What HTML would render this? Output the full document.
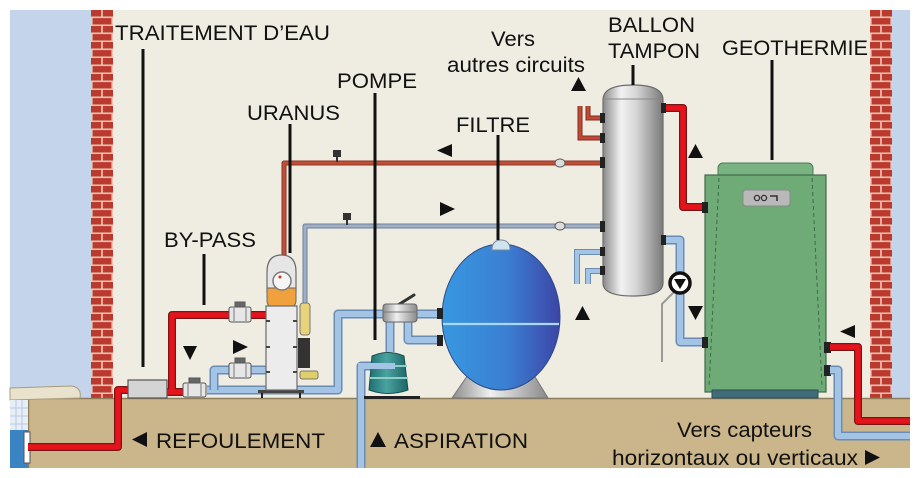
<!DOCTYPE html>
<html><head><meta charset="utf-8"><style>
html,body{margin:0;padding:0;background:#fff;}
svg{display:block;}
text{font-family:"Liberation Sans",Arial,sans-serif;fill:#111;}
</style></head><body>
<svg width="920" height="478" viewBox="0 0 920 478" xmlns="http://www.w3.org/2000/svg">
<defs>
 <pattern id="brickL" x="91" y="10" width="22" height="16" patternUnits="userSpaceOnUse">
  <rect width="22" height="16" fill="#bb3a2e"/>
  <rect y="6.5" width="22" height="1.6" fill="#f0c4b8"/>
  <rect y="14.5" width="22" height="1.6" fill="#f0c4b8"/>
  <rect x="10.2" y="0" width="1.6" height="7" fill="#f0c4b8"/>
  <rect x="0" y="8" width="1.6" height="7" fill="#f0c4b8"/>
  <rect x="20.4" y="8" width="1.6" height="7" fill="#f0c4b8"/>
 </pattern>
 <pattern id="brickR" x="870" y="10" width="22" height="16" patternUnits="userSpaceOnUse">
  <rect width="22" height="16" fill="#bb3a2e"/>
  <rect y="6.5" width="22" height="1.6" fill="#f0c4b8"/>
  <rect y="14.5" width="22" height="1.6" fill="#f0c4b8"/>
  <rect x="10.2" y="0" width="1.6" height="7" fill="#f0c4b8"/>
  <rect x="0" y="8" width="1.6" height="7" fill="#f0c4b8"/>
  <rect x="20.4" y="8" width="1.6" height="7" fill="#f0c4b8"/>
 </pattern>
 <linearGradient id="tank" x1="0" x2="1" y1="0" y2="0">
  <stop offset="0" stop-color="#8a8a8a"/>
  <stop offset="0.3" stop-color="#f2f2f2"/>
  <stop offset="0.55" stop-color="#d6d6d6"/>
  <stop offset="1" stop-color="#7a7a7a"/>
 </linearGradient>
 <linearGradient id="filt" x1="0" x2="1" y1="0" y2="0">
  <stop offset="0" stop-color="#3898e0"/>
  <stop offset="0.55" stop-color="#3b7fd2"/>
  <stop offset="1" stop-color="#3c45a6"/>
 </linearGradient>
 <linearGradient id="silver" x1="0" x2="1" y1="0" y2="0">
  <stop offset="0" stop-color="#8c8c8c"/>
  <stop offset="0.4" stop-color="#f0f0f0"/>
  <stop offset="1" stop-color="#8a8a8a"/>
 </linearGradient>
 <linearGradient id="pumpg" x1="0" x2="1" y1="0" y2="0">
  <stop offset="0" stop-color="#1f6f70"/>
  <stop offset="0.45" stop-color="#4aa3a0"/>
  <stop offset="1" stop-color="#1c6466"/>
 </linearGradient>
</defs>

<!-- base -->
<rect width="920" height="478" fill="#ffffff"/>
<rect x="10" y="10" width="900" height="458" fill="#efece2"/>
<rect x="10" y="10" width="81" height="390" fill="#c4d4ea"/>
<rect x="892" y="10" width="18" height="390" fill="#c4d4ea"/>
<rect x="91" y="10" width="22" height="390" fill="url(#brickL)"/>
<rect x="870" y="10" width="22" height="390" fill="url(#brickR)"/>

<!-- ground -->
<rect x="28" y="398" width="882" height="70" fill="#cbb68b"/>
<line x1="28" y1="398.5" x2="910" y2="398.5" stroke="#8e7d5a" stroke-width="1.5"/>
<line x1="28.5" y1="398" x2="28.5" y2="468" stroke="#8e7d5a" stroke-width="1.5"/>

<!-- pool -->
<path d="M10 388 L72 386 Q82 388 80 398 L10 400 Z" fill="#e9e2cc" stroke="#a99c7c" stroke-width="1"/>
<rect x="10" y="400" width="18" height="68" fill="#3a84c4"/>
<rect x="10" y="400" width="18" height="30" fill="#e8eef6"/>
<path d="M10 408 H28 M10 416 H28 M10 424 H28 M16 400 V430 M22 400 V430" stroke="#b8cbe4" stroke-width="1"/>
<rect x="24" y="432" width="6" height="31" fill="#ffffff" stroke="#555" stroke-width="1"/>

<!-- thin upper pipes -->
<path d="M284 256 V163 H603" fill="none" stroke="#8e3424" stroke-width="5" stroke-linejoin="round"/>
<path d="M284 256 V163 H603" fill="none" stroke="#bf5038" stroke-width="3" stroke-linejoin="round"/>
<path d="M305 305 V226 H603" fill="none" stroke="#6d7e95" stroke-width="5" stroke-linejoin="round"/>
<path d="M305 305 V226 H603" fill="none" stroke="#9fb0c6" stroke-width="3" stroke-linejoin="round"/>
<rect x="333" y="150" width="8" height="7" fill="#333"/><rect x="336" y="157" width="2" height="5" fill="#333"/>
<rect x="343" y="213" width="8" height="7" fill="#333"/><rect x="346" y="220" width="2" height="5" fill="#333"/>
<ellipse cx="560" cy="163" rx="5" ry="4" fill="#ddd" stroke="#555"/>
<ellipse cx="560" cy="226" rx="5" ry="4" fill="#ddd" stroke="#555"/>

<!-- small red pipes to other circuits -->
<path d="M603 118 H588 V106 M603 138 H580 V106" fill="none" stroke="#7e2a1e" stroke-width="5"/>
<path d="M603 118 H588 V106 M603 138 H580 V106" fill="none" stroke="#c24a34" stroke-width="3"/>
<!-- small blue pipes bottom-left of tank -->
<path d="M603 252 H577 V284 M603 271 H588 V284" fill="none" stroke="#6b8db5" stroke-width="6"/>
<path d="M603 252 H577 V284 M603 271 H588 V284" fill="none" stroke="#a4c4e6" stroke-width="4"/>

<!-- right red pipe tank -> unit -->
<path d="M663 108 H683 V207 H705" fill="none" stroke="#7a1515" stroke-width="8" stroke-linejoin="round"/>
<path d="M663 108 H683 V207 H705" fill="none" stroke="#e5141c" stroke-width="5.5" stroke-linejoin="round"/>
<!-- right blue pipe tank -> unit -->
<path d="M663 240 H680 V342 H705" fill="none" stroke="#6b8db5" stroke-width="9" stroke-linejoin="round"/>
<path d="M663 240 H680 V342 H705" fill="none" stroke="#a4c4e6" stroke-width="6" stroke-linejoin="round"/>
<!-- wire -->
<path d="M676 290 L662 304 V362" fill="none" stroke="#9a9a9a" stroke-width="2"/>
<!-- circulator -->
<circle cx="680" cy="283" r="10" fill="#fff" stroke="#111" stroke-width="3.5"/>
<polygon points="674,279 686,279 680,289" fill="#111"/>

<!-- tank -->
<path d="M603 100 Q603 85 633 85 Q663 85 663 100 V283 Q663 296 633 296 Q603 296 603 283 Z" fill="url(#tank)" stroke="#6c6c6c" stroke-width="1.2"/>
<path d="M604 99 H662" stroke="#888" stroke-width="1"/>
<rect x="600" y="113" width="5" height="10" fill="#222"/>
<rect x="600" y="133" width="5" height="10" fill="#222"/>
<rect x="600" y="157" width="5" height="11" fill="#222"/>
<rect x="600" y="221" width="5" height="11" fill="#222"/>
<rect x="600" y="247" width="5" height="9" fill="#222"/>
<rect x="600" y="266" width="5" height="9" fill="#222"/>
<rect x="661" y="103" width="5" height="10" fill="#222"/>
<rect x="661" y="235" width="5" height="10" fill="#222"/>

<!-- geothermie unit -->
<rect x="718" y="163" width="95" height="20" rx="5" fill="#79b381" stroke="#4b7b52" stroke-width="1"/>
<rect x="705" y="175" width="121" height="217" fill="#6eab77" stroke="#40694a" stroke-width="1.2"/>
<path d="M719 178 L709 388 M812 178 L822 388" stroke="#3e6a46" stroke-width="1" stroke-dasharray="4,3"/>
<rect x="712" y="390" width="106" height="8" fill="#3f6c78" stroke="#2c4c55" stroke-width="1"/>
<rect x="743" y="190" width="47" height="16" rx="3" fill="#b9b9b9" stroke="#8a8a8a"/>
<circle cx="757" cy="198" r="2.6" fill="none" stroke="#333" stroke-width="1.3"/>
<circle cx="764" cy="198" r="2.6" fill="none" stroke="#333" stroke-width="1.3"/>
<path d="M770 196 H777 V201" fill="none" stroke="#333" stroke-width="1.6"/>
<rect x="702" y="202" width="6" height="11" fill="#222"/>
<rect x="702" y="337" width="6" height="11" fill="#222"/>
<rect x="824" y="342" width="7" height="11" fill="#222"/>
<rect x="824" y="365" width="7" height="11" fill="#222"/>

<!-- right pipes to collectors -->
<path d="M830 370 H838 V436 H910" fill="none" stroke="#6b8db5" stroke-width="9" stroke-linejoin="round"/>
<path d="M830 370 H838 V436 H910" fill="none" stroke="#a4c4e6" stroke-width="6" stroke-linejoin="round"/>
<path d="M830 347 H858 V421 H910" fill="none" stroke="#7a1515" stroke-width="8" stroke-linejoin="round"/>
<path d="M830 347 H858 V421 H910" fill="none" stroke="#e5141c" stroke-width="5.5" stroke-linejoin="round"/>

<!-- blue pipes left/center -->
<path d="M207 390 H338 V314 H383 M417 314 H442 M408 320 V340 H442 M390 320 V352" fill="none" stroke="#6b8db5" stroke-width="9" stroke-linejoin="round"/>
<path d="M207 390 H338 V314 H383 M417 314 H442 M408 320 V340 H442 M390 320 V352" fill="none" stroke="#a4c4e6" stroke-width="6" stroke-linejoin="round"/>
<path d="M214 390 V370 H266" fill="none" stroke="#6b8db5" stroke-width="9" stroke-linejoin="round"/>
<path d="M214 390 V370 H266" fill="none" stroke="#a4c4e6" stroke-width="6" stroke-linejoin="round"/>
<path d="M395 366 H361 V468" fill="none" stroke="#6b8db5" stroke-width="9" stroke-linejoin="round"/>
<path d="M395 366 H361 V468" fill="none" stroke="#a4c4e6" stroke-width="6" stroke-linejoin="round"/>

<!-- red pipes left -->
<path d="M130 390 H118 V447 H28" fill="none" stroke="#7a1515" stroke-width="8" stroke-linejoin="round"/>
<path d="M130 390 H118 V447 H28" fill="none" stroke="#e5141c" stroke-width="5.5" stroke-linejoin="round"/>
<path d="M165 392 H185 M172 392 V315 H266" fill="none" stroke="#7a1515" stroke-width="8" stroke-linejoin="round"/>
<path d="M165 392 H185 M172 392 V315 H266" fill="none" stroke="#e5141c" stroke-width="5.5" stroke-linejoin="round"/>

<!-- valves -->
<g stroke="#555" stroke-width="1">
 <rect x="183" y="383" width="23" height="14" rx="2" fill="#e6e6e6"/>
 <rect x="189" y="378" width="11" height="5" fill="#666"/>
 <rect x="229" y="307" width="22" height="15" rx="2" fill="#e6e6e6"/>
 <rect x="235" y="302" width="10" height="5" fill="#666"/>
 <rect x="229" y="363" width="22" height="15" rx="2" fill="#e6e6e6"/>
 <rect x="235" y="358" width="10" height="5" fill="#666"/>
</g>
<path d="M188 384 V396 M201 384 V396 M234 308 V321 M246 308 V321 M234 364 V377 M246 364 V377" stroke="#777" stroke-width="1"/>

<!-- traitement box -->
<rect x="128" y="380" width="39" height="18" fill="#d4d4d4" stroke="#555" stroke-width="1.2"/>

<!-- uranus -->
<path d="M262 398 V391 M300 398 V391" stroke="#222" stroke-width="2"/>
<rect x="258" y="390" width="46" height="3" fill="#444"/>
<path d="M267 292 V272 Q267 255 281.5 255 Q296 255 296 272 V292 Z" fill="#e6e6e6" stroke="#6a6a6a" stroke-width="1.2"/>
<path d="M267 288 H296 V300 Q296 307 290 307 H273 Q267 307 267 300 Z" fill="#f0a03c" stroke="#6a6a6a" stroke-width="1"/>
<circle cx="282" cy="281" r="9" fill="#f6f6f6" stroke="#7a7a7a" stroke-width="1.5"/>
<circle cx="280" cy="277" r="1.5" fill="#d03020"/>
<rect x="266" y="306" width="31" height="84" fill="#ececec" stroke="#6a6a6a" stroke-width="1.2"/>
<path d="M266 321 h4 M293 321 h4 M266 347 h4 M293 347 h4 M266 372 h4 M293 372 h4" stroke="#444" stroke-width="2"/>
<rect x="300" y="303" width="10" height="32" rx="3" fill="#e8d27a" stroke="#777" stroke-width="1"/>
<rect x="298" y="338" width="12" height="30" fill="#333"/>
<rect x="300" y="371" width="18" height="8" rx="2" fill="#e0cf66" stroke="#777" stroke-width="1"/>

<!-- filter -->
<path d="M452 398 L470 372 H532 L548 398 Z" fill="url(#silver)" stroke="#777" stroke-width="1"/>
<ellipse cx="501" cy="317" rx="59" ry="73" fill="url(#filt)" stroke="#2d4a88" stroke-width="1"/>
<line x1="443" y1="324" x2="559" y2="324" stroke="#a8d8f4" stroke-width="2.2"/>
<path d="M492 250 Q492 240 501 240 Q510 240 510 250 Z" fill="#cfe4ee" stroke="#7a8a99" stroke-width="1"/>
<rect x="437" y="308" width="6" height="11" fill="#222"/>
<rect x="437" y="335" width="6" height="11" fill="#222"/>

<!-- multiport valve + pump -->
<path d="M398 305 L414 295" stroke="#333" stroke-width="3" stroke-linecap="round"/>
<rect x="383" y="304" width="34" height="18" rx="3" fill="url(#silver)" stroke="#666" stroke-width="1"/>
<line x1="383" y1="312" x2="417" y2="312" stroke="#777" stroke-width="1"/>
<rect x="364" y="396" width="56" height="3" fill="#222"/>
<path d="M372 356 Q388 349 404 356 L408 390 Q388 397 369 390 Z" fill="url(#pumpg)" stroke="#17504f" stroke-width="1"/>
<path d="M371 366 H407 M370 378 H408" stroke="#8ed0c8" stroke-width="2"/>
<path d="M395 366 H361 V380" fill="none" stroke="#a4c4e6" stroke-width="6"/>

<!-- leader lines -->
<g stroke="#111" stroke-width="3">
 <line x1="143" y1="49" x2="143" y2="367"/>
 <line x1="290" y1="124" x2="290" y2="253"/>
 <line x1="375" y1="93" x2="375" y2="340"/>
 <line x1="204" y1="254" x2="204" y2="305"/>
 <line x1="498" y1="135" x2="498" y2="240"/>
 <line x1="633" y1="65" x2="633" y2="85"/>
 <line x1="772" y1="60" x2="772" y2="160"/>
</g>

<!-- arrows -->
<g fill="#111">
 <polygon points="571,91 586,91 578.5,77"/>
 <polygon points="452,144 452,157 437,150.5"/>
 <polygon points="440,202 440,216 455,209"/>
 <polygon points="688,158 703,158 695.5,144"/>
 <polygon points="183,346 197,346 190,360"/>
 <polygon points="233,340 233,354 248,347"/>
 <polygon points="575,320 590,320 582.5,306"/>
 <polygon points="688,306 703,306 695.5,320"/>
 <polygon points="855,325 855,338 840,331.5"/>
</g>

<!-- labels -->
<g font-size="21">
 <text x="115" y="40" textLength="215" lengthAdjust="spacingAndGlyphs">TRAITEMENT D’EAU</text>
 <text x="337" y="88" textLength="80" lengthAdjust="spacingAndGlyphs">POMPE</text>
 <text x="247" y="120" textLength="93" lengthAdjust="spacingAndGlyphs">URANUS</text>
 <text x="164" y="247" textLength="92" lengthAdjust="spacingAndGlyphs">BY-PASS</text>
 <text x="456" y="132" textLength="74" lengthAdjust="spacingAndGlyphs">FILTRE</text>
 <text x="491" y="46" textLength="44" lengthAdjust="spacingAndGlyphs">Vers</text>
 <text x="447" y="72" textLength="138" lengthAdjust="spacingAndGlyphs">autres circuits</text>
 <text x="608" y="32" textLength="87" lengthAdjust="spacingAndGlyphs">BALLON</text>
 <text x="608" y="58" textLength="92" lengthAdjust="spacingAndGlyphs">TAMPON</text>
 <text x="722" y="55" textLength="146" lengthAdjust="spacingAndGlyphs">GEOTHERMIE</text>
 <text x="156" y="448" textLength="169" lengthAdjust="spacingAndGlyphs">REFOULEMENT</text>
 <text x="394" y="448" textLength="134" lengthAdjust="spacingAndGlyphs">ASPIRATION</text>
 <text x="677" y="437" textLength="135" lengthAdjust="spacingAndGlyphs">Vers capteurs</text>
 <text x="612" y="465" textLength="246" lengthAdjust="spacingAndGlyphs">horizontaux ou verticaux</text>
</g>
<g fill="#111">
 <polygon points="147,432 147,447 132,439.5"/>
 <polygon points="370,447 386,447 378,432"/>
 <polygon points="865,450 865,465 880,457.5"/>
</g>
</svg>
</body></html>
